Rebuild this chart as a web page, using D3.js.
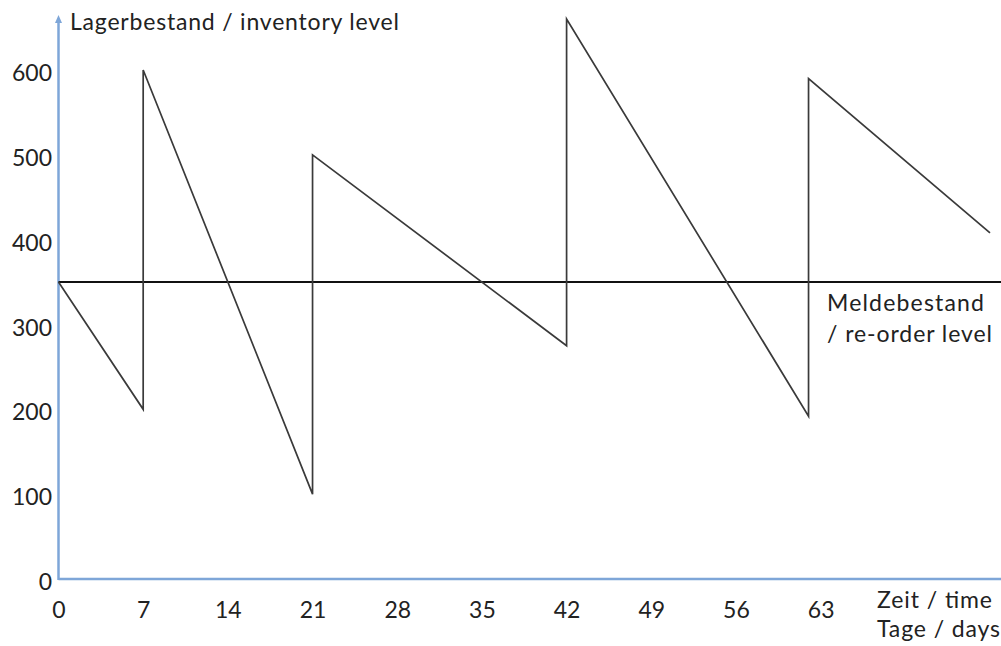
<!DOCTYPE html>
<html><head><meta charset="utf-8">
<script src="https://cdn.jsdelivr.net/npm/d3@7"></script>
<style>body{margin:0;background:#fff}svg{display:block}text{font-family:Lato,"Open Sans",sans-serif;fill:#222}</style>
</head><body><svg id="c" width="1001" height="646"></svg>
<script>
const days = [0, 7, 7, 21, 21, 42, 42, 62, 62, 77];
const stock = [350, 200, 600, 100, 500, 275, 660, 192, 590, 408];
const reorderLevel = 350;
const xTicks = [0, 7, 14, 21, 28, 35, 42, 49, 56, 63];
const yTicks = [0, 100, 200, 300, 400, 500, 600];
const yTitle = "Lagerbestand / inventory level";
const reorderLabel = ["Meldebestand", "/ re-order level"];
const xTitle = ["Zeit / time", "Tage / days"];

const svg = d3.select("#c");
const x = d3.scaleLinear().domain([0, 77]).range([58.5, 990]);
const y = d3.scaleLinear().domain([0, 600]).range([579, 70]);

// axes lines
svg.append("line").attr("x1", x(0)).attr("x2", 1001).attr("y1", y(0)).attr("y2", y(0))
  .attr("stroke", "#7ea6d8").attr("stroke-width", 2.5);
svg.append("line").attr("x1", x(0)).attr("x2", x(0)).attr("y1", y(0) + 1).attr("y2", 22)
  .attr("stroke", "#7ea6d8").attr("stroke-width", 2.5);
svg.append("path").attr("d", `M${x(0)},15 L${x(0) - 3.5},23 L${x(0) + 3.5},23 Z`).attr("fill", "#7ea6d8");

const FS = "23px";
// tick labels
const xAxis = d3.axisBottom(x).tickValues(xTicks).tickSize(0).tickPadding(0);
const gx = svg.append("g").attr("transform", `translate(0,${y(0)})`).call(xAxis);
gx.select(".domain").remove();
gx.selectAll("text").attr("dy", null).attr("y", 39).style("font-size", FS).style("font-family", "Lato,sans-serif").attr("fill", "#222");

const yAxis = d3.axisLeft(y).tickValues(yTicks).tickSize(0).tickPadding(0);
const gy = svg.append("g").attr("transform", `translate(52,0)`).call(yAxis);
gy.select(".domain").remove();
gy.selectAll("text").attr("dy", "0.37em").attr("x", 0).attr("y", 2).style("font-size", FS).style("font-family", "Lato,sans-serif").attr("fill", "#222");

// reorder line
svg.append("line").attr("x1", x(0)).attr("x2", 1001).attr("y1", y(reorderLevel)).attr("y2", y(reorderLevel))
  .attr("stroke", "#111").attr("stroke-width", 2);

// inventory line
const pts = days.map((d, i) => [x(d), y(stock[i])]);
svg.append("path").attr("d", d3.line()(pts)).attr("fill", "none")
  .attr("stroke", "#3a3a3a").attr("stroke-width", 1.7).attr("stroke-linejoin", "miter");

// texts
function label(tx, ty, str, len) {
  svg.append("text").attr("x", tx).attr("y", ty).style("font-size", FS)
    .attr("textLength", len).attr("lengthAdjust", "spacing").text(str);
}
label(70, 30, yTitle, 329);
label(827, 311, reorderLabel[0], 157);
label(827, 342, reorderLabel[1], 165);
label(877, 608, xTitle[0], 115);
label(877, 637, xTitle[1], 123);
</script></body></html>
